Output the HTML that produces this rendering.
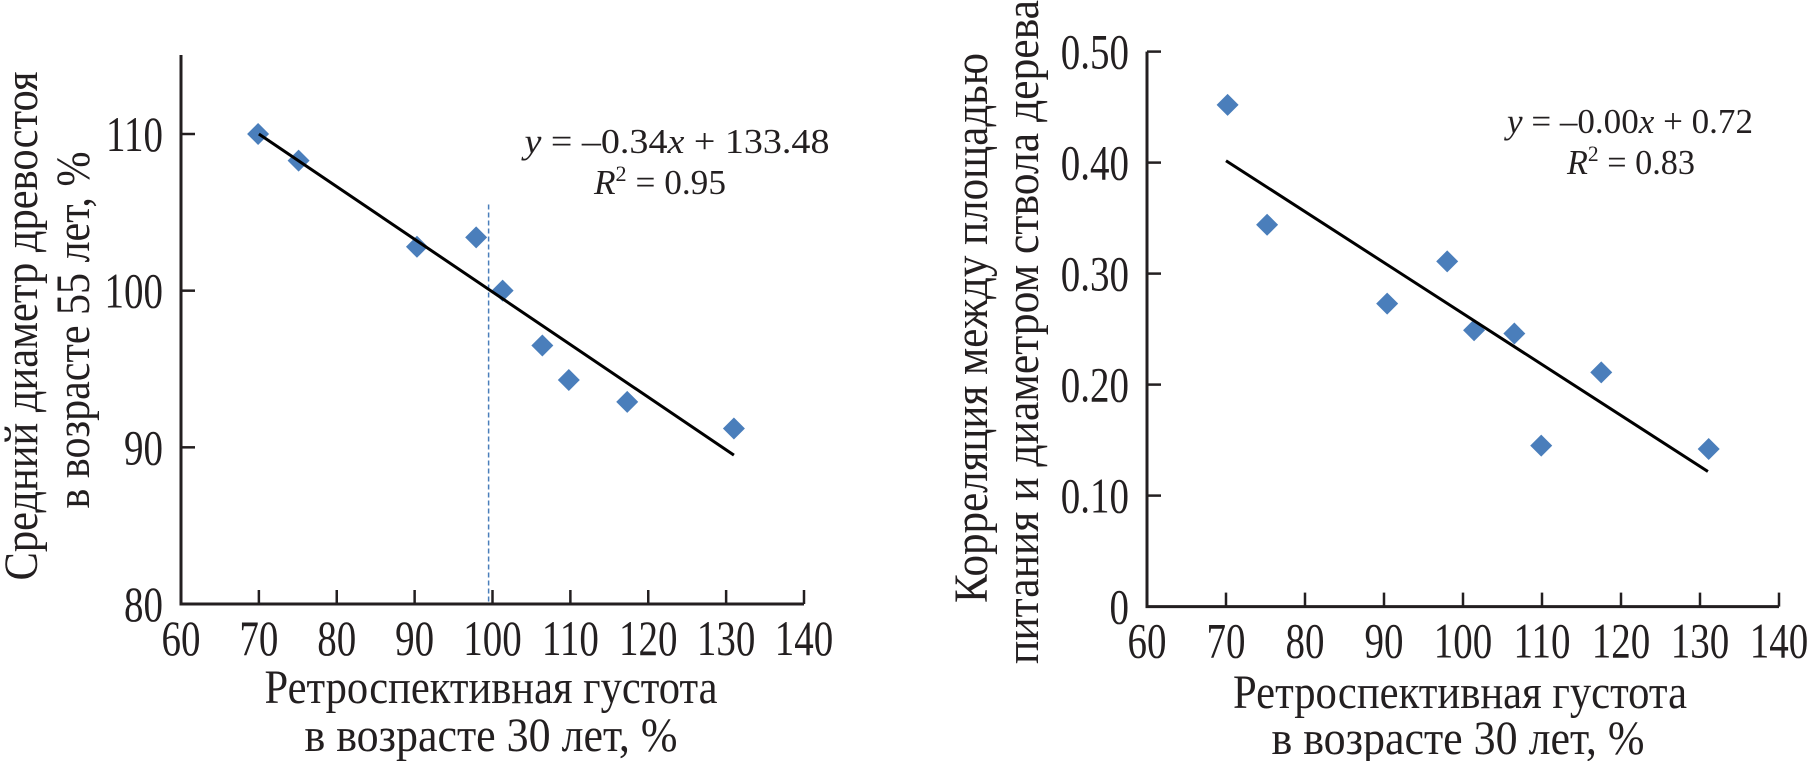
<!DOCTYPE html>
<html><head><meta charset="utf-8"><style>
html,body{margin:0;padding:0;background:#fff;}
svg{display:block;}
text{font-family:"Liberation Serif","DejaVu Serif",serif;fill:#231f20;}
</style></head><body>
<svg id="svg" width="1809" height="761" viewBox="0 0 1809 761" xmlns="http://www.w3.org/2000/svg">
<g id="left"></g>
<g id="right"></g>
</svg>
<script>
// Left chart data
const leftX = [69.9, 75.1, 90.3, 97.9, 101.3, 106.4, 109.8, 117.3, 131.0];
const leftY = [110.0, 108.3, 102.8, 103.4, 100.0, 96.5, 94.3, 92.9, 91.2];
const leftXTicks = [60, 70, 80, 90, 100, 110, 120, 130, 140];
const leftYTicks = [80, 90, 100, 110];
const leftTrend = [-0.336, 133.52];
const leftTrendRange = [70, 131];
const leftDashX = [99.5];
const leftDashTop = [105.5];
// Right chart data
const rightX = [70.2, 75.2, 90.4, 98.0, 101.4, 106.5, 109.9, 117.5, 131.1];
const rightY = [0.452, 0.344, 0.273, 0.311, 0.249, 0.246, 0.145, 0.211, 0.142];
const rightXTicks = [60, 70, 80, 90, 100, 110, 120, 130, 140];
const rightYTicks = [0, 0.1, 0.2, 0.3, 0.4, 0.5];
const rightYTickLabels = ["0", "0.10", "0.20", "0.30", "0.40", "0.50"];
const rightTrend = [-0.00459, 0.7230];
const rightTrendRange = [70, 131];

const NS = "http://www.w3.org/2000/svg";
function mk(parent, tag, attrs, txt) {
  const e = document.createElementNS(NS, tag);
  for (const k in attrs) e.setAttribute(k, attrs[k]);
  if (txt !== undefined) e.textContent = txt;
  parent.appendChild(e);
  return e;
}

function drawChart(g, cfg) {
  const sx = v => cfg.x0 + (v - cfg.xmin) * (cfg.x1 - cfg.x0) / (cfg.xmax - cfg.xmin);
  const sy = v => cfg.y0 + (v - cfg.ymin) * (cfg.y1 - cfg.y0) / (cfg.ymax - cfg.ymin);
  const ax = mk(g, "path", {d: `M${cfg.x0},${cfg.ytop} L${cfg.x0},${cfg.y0} L${cfg.x1},${cfg.y0}`, fill: "none", stroke: "#231f20", "stroke-width": 3});
  
  
  cfg.xTicks.forEach(t => {
    const l = mk(g, "line", {x1: sx(t), x2: sx(t), y1: cfg.y0, y2: cfg.y0 - 14, stroke: "#231f20", "stroke-width": 2.5});
    
    
    const tx = mk(g, "text", {x: sx(t), y: cfg.y0 + 51, "font-size": 50, "text-anchor": "middle", transform: `translate(${sx(t)},0) scale(0.78,1) translate(${-sx(t)},0)`}, String(t));
    
    
  });
  cfg.yTicks.forEach((t, i) => {
    if (t !== cfg.ymin) {
      const l = mk(g, "line", {x1: cfg.x0, x2: cfg.x0 + 14, y1: sy(t), y2: sy(t), stroke: "#231f20", "stroke-width": 2.5});
      
      
    }
    const lab = cfg.yLabels ? cfg.yLabels[i] : String(t);
    const rx = cfg.x0 - 18;
    const tx = mk(g, "text", {x: rx, y: sy(t) + 17, "font-size": 50, "text-anchor": "end", transform: `translate(${rx},0) scale(0.78,1) translate(${-rx},0)`}, lab);
    
    
  });
  if (cfg.dash) {
    const d = mk(g, "line", {x1: sx(cfg.dash[0]), x2: sx(cfg.dash[0]), y1: sy(cfg.dash[1]), y2: cfg.y0, stroke: "#4a7ebb", "stroke-width": 1.5, "stroke-dasharray": "5,3"});
    
    
  }
  cfg.xs.forEach((v, i) => {
    const cx = sx(v), cy = sy(cfg.ys[i]);
    const p = mk(g, "path", {d: `M${cx},${cy - 11} L${cx + 11},${cy} L${cx},${cy + 11} L${cx - 11},${cy} Z`, fill: "#4a7ebb"});
    
    
  });
  const [a, b] = cfg.trend;
  const [r0, r1] = cfg.trendRange;
  const tl = mk(g, "line", {x1: sx(r0), y1: sy(a * r0 + b), x2: sx(r1), y2: sy(a * r1 + b), stroke: "#000", "stroke-width": 3});
  
  
}

const L = document.getElementById("left");
drawChart(L, {x0: 181, x1: 804, xmin: 60, xmax: 140, y0: 604, y1: 134, ymin: 80, ymax: 110, ytop: 55,
  xTicks: leftXTicks, yTicks: leftYTicks, xs: leftX, ys: leftY, trend: leftTrend, trendRange: leftTrendRange,
  dash: [leftDashX[0], leftDashTop[0]]});
const R = document.getElementById("right");
drawChart(R, {x0: 1147, x1: 1779, xmin: 60, xmax: 140, y0: 606.6, y1: 51.6, ymin: 0, ymax: 0.5, ytop: 51.6,
  xTicks: rightXTicks, yTicks: rightYTicks, yLabels: rightYTickLabels, xs: rightX, ys: rightY, trend: rightTrend, trendRange: rightTrendRange});
</script>
<script>
const s = document.getElementById("svg");
function addText(x, y, str, size, len, name, rot, italicHtml) {
  const t = document.createElementNS(NS, "text");
  t.setAttribute("x", x); t.setAttribute("y", y);
  t.setAttribute("font-size", size);
  t.setAttribute("text-anchor", "middle");
  if (len) { t.setAttribute("textLength", len); t.setAttribute("lengthAdjust", "spacingAndGlyphs"); }
  if (rot) t.setAttribute("transform", `rotate(-90 ${x} ${y})`);
  if (italicHtml) t.innerHTML = italicHtml; else t.textContent = str;
  
  
  s.appendChild(t);
}
addText(491, 703, "Ретроспективная густота", 48, 453, "x-axis-title-left");
addText(491, 751, "в возрасте  30 лет,  %", 48, 373, "x-axis-subtitle-left");
addText(1460, 708, "Ретроспективная густота", 48, 454, "x-axis-title-right");
addText(1458, 754, "в возрасте  30 лет,  %", 48, 373, "x-axis-subtitle-right");
addText(37, 326, "Средний диаметр древостоя", 48, 509, "y-axis-title-left", true);
addText(89, 330, "в возрасте 55 лет, %", 48, 357, "y-axis-subtitle-left", true);
addText(987, 328, "Корреляция между площадью", 48, 550, "y-axis-title-right", true);
addText(1038, 332, "питания и диаметром ствола дерева", 48, 664, "y-axis-subtitle-right", true);
addText(677, 153, "", 35, 305, "equation-left", false, '<tspan font-style="italic">y</tspan> = –0.34<tspan font-style="italic">x</tspan> + 133.48');
addText(660, 194, "", 35, 132, "r-squared-left", false, '<tspan font-style="italic">R</tspan><tspan dy="-13" font-size="22">2</tspan><tspan dy="13"> = 0.95</tspan>');
addText(1630, 133, "", 35, 246, "equation-right", false, '<tspan font-style="italic">y</tspan> = –0.00<tspan font-style="italic">x</tspan> + 0.72');
addText(1631, 174, "", 35, 128, "r-squared-right", false, '<tspan font-style="italic">R</tspan><tspan dy="-13" font-size="22">2</tspan><tspan dy="13"> = 0.83</tspan>');
</script>
</body></html>
